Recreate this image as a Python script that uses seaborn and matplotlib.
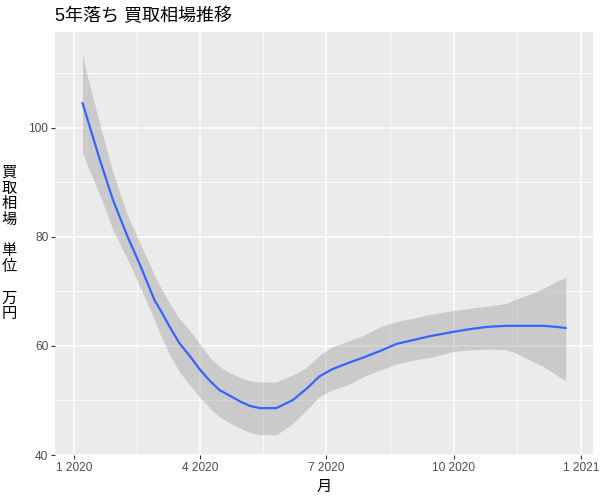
import matplotlib
matplotlib.use("Agg")
import matplotlib.pyplot as plt
import matplotlib.dates as mdates
from matplotlib.ticker import FuncFormatter, FixedLocator
import seaborn as sns
import pandas as pd

# -----------------------------
# Data
# -----------------------------
dates = ["2020-01-07", "2020-01-10", "2020-01-20", "2020-01-29", "2020-02-08",
         "2020-02-18", "2020-02-28", "2020-03-03", "2020-03-10", "2020-03-17",
         "2020-03-25", "2020-04-01", "2020-04-08", "2020-04-15", "2020-04-23",
         "2020-04-30", "2020-05-07", "2020-05-14", "2020-05-26", "2020-06-07",
         "2020-06-17", "2020-06-26", "2020-07-05", "2020-07-16", "2020-07-28",
         "2020-08-09", "2020-08-21", "2020-09-02", "2020-09-14", "2020-10-01",
         "2020-10-13", "2020-10-25", "2020-11-08", "2020-11-15", "2020-11-25",
         "2020-12-05", "2020-12-14", "2020-12-21"]
price = [104.6, 102.1, 93.8, 86.8, 80.4,
         74.6, 68.4, 66.7, 63.5, 60.5,
         58.0, 55.6, 53.6, 51.9, 50.8,
         49.8, 49.0, 48.6, 48.6, 50.1,
         52.2, 54.4, 55.7, 56.8, 57.9,
         59.1, 60.4, 61.1, 61.8, 62.6,
         63.1, 63.5, 63.7, 63.7, 63.7,
         63.7, 63.5, 63.3]
lower = [95.7, 93.5, 87.4, 81.3, 76.2,
         70.6, 64.8, 62.2, 58.4, 55.2,
         52.7, 50.5, 48.6, 47.0, 45.8,
         44.9, 44.1, 43.7, 43.7, 45.8,
         48.3, 50.7, 51.9, 52.8, 54.4,
         55.6, 56.7, 57.4, 57.9, 59.0,
         59.3, 59.4, 59.3, 58.7, 57.4,
         56.2, 54.7, 53.6]
upper = [113.6, 110.0, 100.2, 91.9, 84.3,
         78.6, 73.0, 71.0, 67.8, 65.0,
         62.7, 60.3, 57.9, 56.2, 55.0,
         54.2, 53.6, 53.4, 53.4, 54.7,
         56.1, 58.3, 59.8, 60.8, 62.0,
         63.5, 64.5, 65.1, 65.8, 66.5,
         66.9, 67.3, 67.8, 68.6, 69.5,
         70.6, 71.8, 72.6]

df = pd.DataFrame({"月": pd.to_datetime(dates), "price": price,
                   "lower": lower, "upper": upper})

x_breaks = pd.to_datetime(["2020-01-01", "2020-04-01", "2020-07-01",
                           "2020-10-01", "2021-01-01"])
y_breaks = [40, 60, 80, 100]

# -----------------------------
# Style (ggplot grey look)
# -----------------------------
sns.set_theme(style="darkgrid", rc={
    "axes.facecolor": "#EBEBEB",
    "grid.color": "white",
})
plt.rcParams["font.family"] = ["Liberation Sans", "Noto Sans CJK JP", "DejaVu Sans"]

fig = plt.figure(figsize=(6, 5), dpi=100)
ax = fig.add_axes([0.092, 0.09, 0.896, 0.846])

# minor grid
xb = mdates.date2num(x_breaks)
x_minor = [(a + b) / 2 for a, b in zip(xb[:-1], xb[1:])]
for v in x_minor:
    ax.axvline(v, color="white", lw=0.6, zorder=0)
for v in [50, 70, 90, 110]:
    ax.axhline(v, color="white", lw=0.6, zorder=0)

ax.fill_between(df["月"], df["lower"], df["upper"], color="#999999",
                alpha=0.4, lw=0, zorder=2)
sns.lineplot(data=df, x="月", y="price", color="#3366FF", lw=1.6, ax=ax,
             zorder=3)

start = mdates.date2num(pd.Timestamp("2020-01-01"))
ax.set_xlim(start - 13.7, start + 374.5)
ax.set_ylim(40, 117.6)

ax.xaxis.set_major_locator(FixedLocator(xb))
ax.xaxis.set_major_formatter(FuncFormatter(
    lambda v, p: f"{mdates.num2date(v).month} {mdates.num2date(v).year}"))
ax.set_yticks(y_breaks)
ax.grid(True, which="major", color="white", lw=1.1)

ax.tick_params(axis="both", which="major", length=3, width=0.8,
               color="#333333", labelcolor="#4D4D4D", labelsize=8.6,
               bottom=True, left=True, pad=2)
for s in ax.spines.values():
    s.set_visible(False)

ax.set_xlabel("月", fontsize=11, color="black", labelpad=4)
ax.set_ylabel("買\n取\n相\n場\n\n単\n位\n\n万\n円", rotation=0,
              fontsize=11, color="black", linespacing=1.15,
              va="center", labelpad=14)
ax.set_title("5年落ち 買取相場推移", loc="left", fontsize=13,
             color="black", pad=8)

plt.savefig("out.png", dpi=100)
plt.close()
